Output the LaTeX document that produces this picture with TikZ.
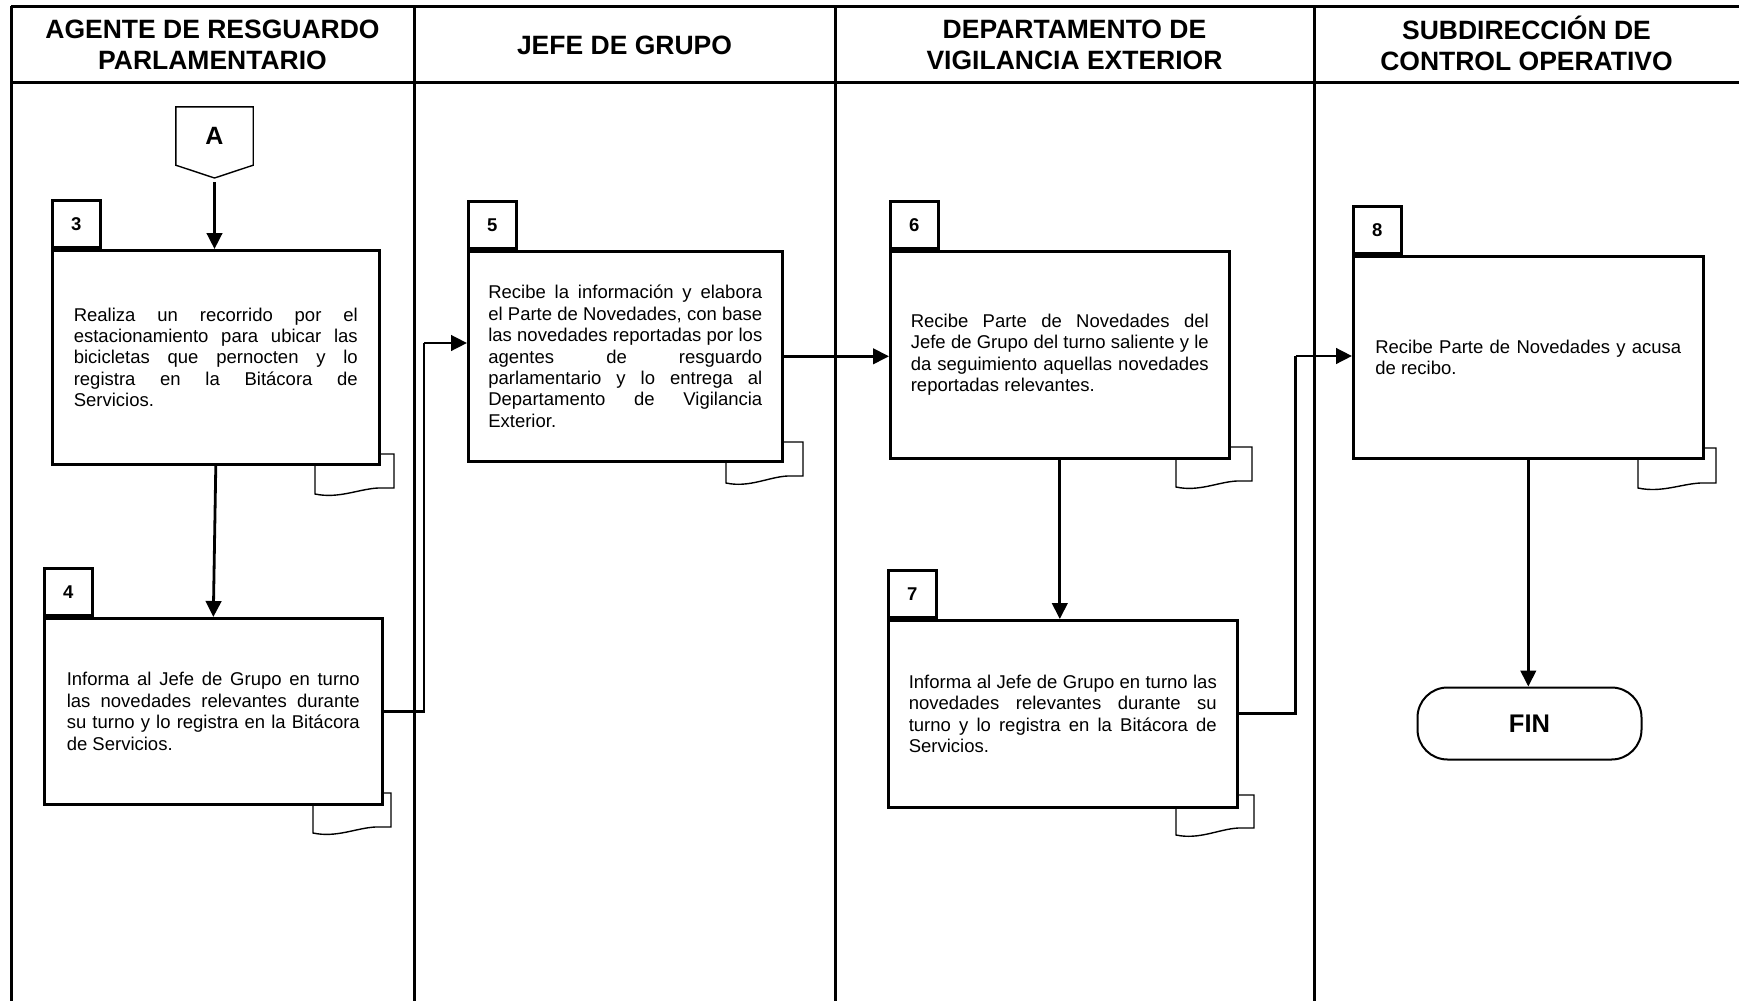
\documentclass[tikz,border=0pt]{standalone}
\usepackage{fontspec}
\setmainfont{Liberation Sans}
\usetikzlibrary{arrows.meta}
\tolerance=10000
\hbadness=10000
\hyphenpenalty=10000
\exhyphenpenalty=10000
% document-symbol tail behind an activity box: x1, top, x2, bottom-left, bottom-right
\newcommand\doctail[5]{%
  \filldraw[doc] (#1,#2) -- (#1,#4)
    .. controls ({#1+0.3*(#3-#1)},{#4+5}) and ({#1+0.55*(#3-#1)},{#5+1}) ..
    ({#1+0.8*(#3-#1)},#5) -- (#3,#5) -- (#3,#2) -- cycle;}
\begin{document}
\begin{tikzpicture}[x=1pt,y=-1pt,
  lane/.style={line width=3pt},
  hdr/.style={font=\fontsize{26.5}{31}\selectfont\bfseries, align=center, inner sep=0pt},
  actbox/.style={draw, line width=2.6pt, fill=white, anchor=north west, inner sep=0pt,
    align=justify, font=\fontsize{18.5}{21.4}\selectfont},
  numtab/.style={draw, line width=2.6pt, fill=white, anchor=south west, inner sep=0pt,
    minimum width=48pt, minimum height=47pt, font=\fontsize{18.5}{21}\selectfont\bfseries},
  doc/.style={draw, line width=1.4pt, fill=white},
  flow/.style={line width=2.8pt, -{Triangle[length=16pt,width=15.5pt]}},
  link/.style={line width=2.8pt}
]
\useasboundingbox (0,0) rectangle (1739,1001);

% swimlane grid
\draw[lane] (11,6) -- (1739,6);
\draw[lane] (11,82) -- (1739,82);
\foreach \lx in {11,414,835,1314}
  \draw[lane] (\lx,6) -- (\lx,1001);

% lane headers
\node[hdr] (h1) at (212.5,45) {AGENTE DE RESGUARDO\\PARLAMENTARIO};
\node[hdr] (h2) at (624.5,45) {JEFE DE GRUPO};
\node[hdr] (h3) at (1074.5,45) {DEPARTAMENTO DE\\VIGILANCIA EXTERIOR};
\node[hdr] (h4) at (1526.5,43) {SUBDIRECCIÓN DE\\CONTROL OPERATIVO};

% off-page connector A
\node[minimum width=77pt, minimum height=58pt, inner sep=0pt,
  font=\fontsize{25}{30}\selectfont\bfseries] (A) at (214.5,136) {A};
\coordinate (Atip) at (214.5,178);
\draw[line width=1.4pt] (A.north west) -- (A.north east) -- (A.south east)
  -- (Atip) -- (A.south west) -- cycle;

% document tails
\doctail{315}{454}{394}{494}{488}
\doctail{313}{793}{391}{833}{827}
\doctail{726}{442}{803}{483}{476}
\doctail{1176}{447}{1252}{487}{481}
\doctail{1176}{795}{1254}{835}{828}
\doctail{1638}{448}{1716}{488}{483}

% activities
\node[actbox, text width=284pt, minimum width=327pt, minimum height=214pt] (b3) at (51,249)
  {Realiza un recorrido por el\linebreak estacionamiento para ubicar las\linebreak
   bicicletas que pernocten y lo\linebreak registra en la Bitácora de\linebreak Servicios.};
\node[numtab] (t3) at (b3.north west) {3};

\node[actbox, text width=293pt, minimum width=338pt, minimum height=186pt] (b4) at (43,617)
  {Informa al Jefe de Grupo en turno\linebreak las novedades relevantes durante\linebreak
   su turno y lo registra en la Bitácora\linebreak de Servicios.};
\node[numtab] (t4) at (b4.north west) {4};

\node[actbox, text width=274pt, minimum width=314pt, minimum height=210pt] (b5) at (467,250)
  {Recibe la información y elabora\linebreak el Parte de Novedades, con base\linebreak
   las novedades reportadas por los\linebreak agentes de resguardo\linebreak
   parlamentario y lo entrega al\linebreak Departamento de Vigilancia\linebreak Exterior.};
\node[numtab] (t5) at (b5.north west) {5};

\node[actbox, text width=298pt, minimum width=339pt, minimum height=207pt] (b6) at (889,250)
  {Recibe Parte de Novedades del\linebreak Jefe de Grupo del turno saliente y le\linebreak
   da seguimiento aquellas novedades\linebreak reportadas relevantes.};
\node[numtab] (t6) at (b6.north west) {6};

\node[actbox, text width=308pt, minimum width=349pt, minimum height=187pt] (b7) at (887,619)
  {Informa al Jefe de Grupo en turno las\linebreak novedades relevantes durante su\linebreak
   turno y lo registra en la Bitácora de\linebreak Servicios.};
\node[numtab] (t7) at (b7.north west) {7};

\node[actbox, text width=306pt, minimum width=350pt, minimum height=202pt] (b8) at (1352,255)
  {Recibe Parte de Novedades y acusa\linebreak de recibo.};
\node[numtab] (t8) at (b8.north west) {8};

% terminator
\node[draw, line width=2pt, rounded corners=30pt, minimum width=224pt, minimum height=72pt,
  font=\fontsize{25.5}{30}\selectfont\bfseries] (fin) at (1529.5,723.5) {FIN};

% connectors
\coordinate (j45) at (424,343);
\coordinate (j78) at (1295.5,356);
\draw[flow, shorten <=4pt] (Atip) -- (Atip |- b3.north);
\draw[flow] (b3.south) -- (b4.north);
\draw[link] (b4.east) -| (j45);
\draw[flow] (j45) -- (j45 -| b5.west);
\draw[flow] (b5.east) -- (b5.east -| b6.west);
\draw[flow] (b6.south) -- (b6.south |- b7.north);
\draw[link] (b7.east) -| (j78);
\draw[flow] (j78) -- (j78 -| b8.west);
\draw[flow] (b8.south) -- (b8.south |- fin.north);
\end{tikzpicture}
\end{document}
